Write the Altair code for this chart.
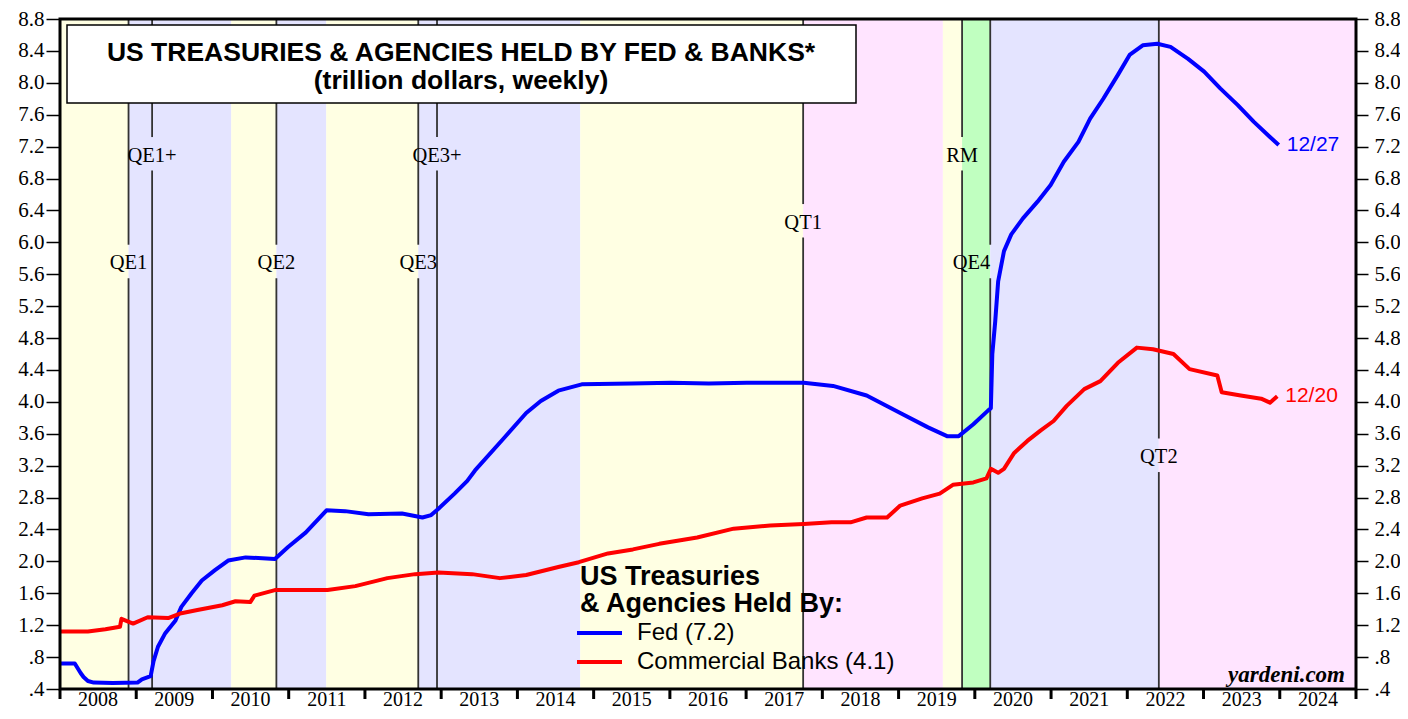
import altair as alt
import pandas as pd

# ---------------- data ----------------
fed_dates = ["2008-01-02", "2008-03-12", "2008-04-09", "2008-04-23", "2008-05-14", "2008-06-11",
             "2008-09-10", "2009-01-07", "2009-01-28", "2009-03-11", "2009-03-25", "2009-04-15",
             "2009-05-20", "2009-07-08", "2009-08-05", "2009-09-23", "2009-11-11", "2010-01-13",
             "2010-03-17", "2010-06-09", "2010-10-27", "2010-12-29", "2011-03-23", "2011-07-01",
             "2011-09-28", "2012-01-18", "2012-06-27", "2012-10-03", "2012-11-14", "2012-12-19",
             "2013-03-06", "2013-05-06", "2013-06-12", "2013-10-30", "2014-02-12", "2014-04-23",
             "2014-07-16", "2014-11-05", "2015-07-01", "2016-01-06", "2016-07-06", "2017-01-04",
             "2017-07-05", "2017-10-04", "2018-02-21", "2018-08-01", "2019-01-09", "2019-05-22",
             "2019-08-21", "2019-10-16", "2019-12-25", "2020-03-04", "2020-03-18", "2020-03-25",
             "2020-04-08", "2020-04-22", "2020-05-20", "2020-06-24", "2020-08-19", "2020-10-28",
             "2020-12-30", "2021-03-03", "2021-05-12", "2021-07-07", "2021-09-08", "2021-11-17",
             "2022-01-12", "2022-03-16", "2022-05-25", "2022-07-27", "2022-10-19", "2023-01-04",
             "2023-03-22", "2023-06-14", "2023-08-30", "2023-11-15", "2023-12-27"]
fed_values = [0.72, 0.72, 0.60, 0.55, 0.50, 0.48,
              0.475, 0.48, 0.52, 0.56, 0.75, 0.93,
              1.10, 1.26, 1.43, 1.60, 1.76, 1.89,
              2.01, 2.05, 2.03, 2.18, 2.36, 2.64,
              2.63, 2.59, 2.60, 2.55, 2.58, 2.66,
              2.85, 3.01, 3.14, 3.55, 3.86, 4.01,
              4.14, 4.22, 4.23, 4.24, 4.23, 4.24,
              4.24, 4.24, 4.20, 4.08, 3.86, 3.68,
              3.57, 3.57, 3.72, 3.89, 3.92, 4.60,
              5.01, 5.51, 5.89, 6.10, 6.30, 6.51,
              6.72, 7.01, 7.26, 7.55, 7.80, 8.10,
              8.35, 8.47, 8.49, 8.45, 8.30, 8.14,
              7.93, 7.72, 7.51, 7.32, 7.22]

bank_dates = ["2008-01-02", "2008-05-14", "2008-08-06", "2008-10-15", "2008-10-22", "2008-12-17",
              "2009-02-25", "2009-06-03", "2009-08-05", "2009-10-21", "2010-02-17", "2010-04-21",
              "2010-07-01", "2010-07-21", "2010-10-27", "2011-03-23", "2011-07-06", "2011-11-16",
              "2012-02-01", "2012-04-18", "2012-08-29", "2012-12-19", "2013-05-29", "2013-10-09",
              "2014-02-12", "2014-07-16", "2014-10-22", "2015-03-11", "2015-07-08", "2015-11-11",
              "2016-05-11", "2016-11-02", "2017-04-26", "2017-10-04", "2018-02-14", "2018-05-16",
              "2018-08-01", "2018-11-07", "2019-01-09", "2019-04-24", "2019-07-17", "2019-09-18",
              "2019-12-25", "2020-02-26", "2020-03-18", "2020-04-22", "2020-05-20", "2020-07-08",
              "2020-09-09", "2020-11-11", "2021-01-13", "2021-03-17", "2021-06-09", "2021-08-25",
              "2021-11-17", "2022-02-16", "2022-05-04", "2022-08-10", "2022-10-26", "2023-03-08",
              "2023-03-29", "2023-06-28", "2023-10-04", "2023-11-15", "2023-12-20"]
bank_values = [1.12, 1.12, 1.15, 1.18, 1.28, 1.22,
               1.30, 1.29, 1.35, 1.39, 1.45, 1.50,
               1.49, 1.57, 1.64, 1.64, 1.64, 1.69,
               1.74, 1.79, 1.84, 1.86, 1.84, 1.79,
               1.83, 1.93, 1.99, 2.10, 2.15, 2.22,
               2.30, 2.41, 2.45, 2.47, 2.49, 2.49,
               2.55, 2.55, 2.70, 2.79, 2.85, 2.96,
               2.99, 3.04, 3.16, 3.11, 3.16, 3.36,
               3.51, 3.64, 3.76, 3.95, 4.16, 4.26,
               4.49, 4.68, 4.66, 4.60, 4.41, 4.33,
               4.12, 4.08, 4.04, 3.99, 4.07]

band_starts = ["2008-01-01", "2008-11-25", "2010-04-01", "2010-11-03", "2011-06-30", "2012-09-13",
               "2014-10-29", "2017-10-01", "2019-08-01", "2019-11-01", "2020-03-15", "2022-06-01"]
band_ends = ["2008-11-25", "2010-04-01", "2010-11-03", "2011-06-30", "2012-09-13", "2014-10-29",
             "2017-10-01", "2019-08-01", "2019-11-01", "2020-03-15", "2022-06-01", "2025-01-01"]
band_colors = ["#FFFFE3", "#E4E4FF", "#FFFFE3", "#E4E4FF", "#FFFFE3", "#E4E4FF",
               "#FFFFE3", "#FFE4FF", "#FFFFE3", "#C0FFC0", "#E4E4FF", "#FFE4FF"]

event_labels = ["QE1", "QE1+", "QE2", "QE3", "QE3+", "QT1", "RM", "QE4", "QT2"]
event_dates = ["2008-11-25", "2009-03-18", "2010-11-03", "2012-09-13", "2012-12-12",
               "2017-10-01", "2019-11-01", "2020-03-15", "2022-06-01"]
event_label_dates = ["2008-11-25", "2009-03-18", "2010-11-03", "2012-09-13", "2012-12-12",
                     "2017-10-01", "2019-11-01", "2019-12-16", "2022-06-01"]
event_label_values = [5.76, 7.11, 5.76, 5.76, 7.11, 6.27, 7.11, 5.76, 3.33]

year_ticks = [2008, 2009, 2010, 2011, 2012, 2013, 2014, 2015, 2016, 2017, 2018,
              2019, 2020, 2021, 2022, 2023, 2024, 2025]
year_labels = ["2008", "2009", "2010", "2011", "2012", "2013", "2014", "2015", "2016",
               "2017", "2018", "2019", "2020", "2021", "2022", "2023", "2024"]
y_ticks = [0.4, 0.8, 1.2, 1.6, 2.0, 2.4, 2.8, 3.2, 3.6, 4.0, 4.4, 4.8, 5.2, 5.6,
           6.0, 6.4, 6.8, 7.2, 7.6, 8.0, 8.4, 8.8]

series_names = ["Fed", "Banks"]
series_colors = ["#0000FF", "#FF0000"]
end_labels = ["12/27", "12/20"]

title_text = "US TREASURIES & AGENCIES HELD BY FED & BANKS*"
subtitle_text = "(trillion dollars, weekly)"
legend_head = ["US Treasuries", "& Agencies Held By:"]
legend_items = ["Fed (7.2)", "Commercial Banks (4.1)"]
source_text = "yardeni.com"


def dec_year(s):
    d = pd.Timestamp(s)
    start = pd.Timestamp(year=d.year, month=1, day=1)
    end = pd.Timestamp(year=d.year + 1, month=1, day=1)
    return d.year + (d - start) / (end - start)


# ---------------- frames ----------------
lines_df = pd.concat([
    pd.DataFrame({"x": [dec_year(d) for d in fed_dates], "value": fed_values, "series": "Fed"}),
    pd.DataFrame({"x": [dec_year(d) for d in bank_dates], "value": bank_values, "series": "Banks"}),
], ignore_index=True)

band_df = pd.DataFrame({"x0": [dec_year(d) for d in band_starts],
                        "x1": [dec_year(d) for d in band_ends],
                        "color": band_colors})

GAP = 0.21
YMIN, YMAX = 0.4, 8.8
seg_rows = []
for d, ly in zip(event_dates, event_label_values):
    xv = dec_year(d)
    seg_rows.append({"x": xv, "y0": YMIN, "y1": ly - GAP})
    seg_rows.append({"x": xv, "y0": ly + GAP, "y1": YMAX})
seg_df = pd.DataFrame(seg_rows)

evlab_df = pd.DataFrame({"x": [dec_year(d) for d in event_label_dates],
                         "y": event_label_values, "label": event_labels})

end_df = pd.DataFrame({"x": [dec_year(fed_dates[-1]), dec_year(bank_dates[-1])],
                       "value": [fed_values[-1], bank_values[-1]],
                       "series": series_names, "label": end_labels})

xtick_df = pd.DataFrame({"x": year_ticks})
xlab_df = pd.DataFrame({"x": [t + 0.5 for t in year_ticks[:-1]], "label": year_labels})

W, H = 1296, 670
xs = alt.Scale(domain=[2008, 2025], nice=False, zero=False)
ys = alt.Scale(domain=[YMIN, YMAX], nice=False, zero=False)
cs = alt.Scale(domain=series_names, range=series_colors)

ylab = "datum.value < 1 ? slice(format(datum.value, '.1f'), 1) : format(datum.value, '.1f')"
SERIF = "Liberation Serif"
SANS = "Liberation Sans"

y_left = alt.Axis(values=y_ticks, labelExpr=ylab, orient="left", tickSize=14, tickWidth=1.5,
                  tickColor="black", domain=False, grid=False, labelFont=SERIF, labelFontSize=21,
                  labelColor="black", labelPadding=2, title=None, labelOverlap=False)
y_right = alt.Axis(values=y_ticks, labelExpr=ylab, orient="right", tickSize=12, tickWidth=1.5,
                   tickColor="black", domain=False, grid=False, labelFont=SERIF, labelFontSize=21,
                   labelColor="black", labelPadding=6, title=None, labelOverlap=False)

bands = alt.Chart(band_df).mark_rect().encode(
    x=alt.X("x0:Q", scale=xs, axis=None), x2="x1:Q",
    y=alt.value(0), y2=alt.value(H),
    color=alt.Color("color:N", scale=None))

rules = alt.Chart(seg_df).mark_rule(color="#333333", strokeWidth=1.8).encode(
    x=alt.X("x:Q", scale=xs, axis=None),
    y=alt.Y("y0:Q", scale=ys, axis=None), y2="y1:Q")

ev_text = alt.Chart(evlab_df).mark_text(font=SERIF, fontSize=20.5, color="black",
                                        align="center", baseline="middle", dy=2).encode(
    x=alt.X("x:Q", scale=xs, axis=None), y=alt.Y("y:Q", scale=ys, axis=None), text="label:N")

title_box = alt.Chart(pd.DataFrame({"a": [1]})).mark_rect(
    fill="white", stroke="black", strokeWidth=1.5).encode(
    x=alt.value(7), x2=alt.value(796), y=alt.value(6), y2=alt.value(84))

title_df = pd.DataFrame({"t": [title_text, subtitle_text], "py": [42, 70]})
titles = alt.Chart(title_df).mark_text(font=SANS, fontWeight="bold", fontSize=26.5, color="black",
                                       align="center", baseline="alphabetic").encode(
    x=alt.value(401), y=alt.Y("py:Q", scale=None), text="t:N")

lines = alt.Chart(lines_df).mark_line(strokeWidth=4, strokeJoin="round").encode(
    x=alt.X("x:Q", scale=xs, axis=None),
    y=alt.Y("value:Q", scale=ys, axis=y_left),
    color=alt.Color("series:N", scale=cs, legend=None),
    detail="series:N", order="x:Q")

ends = alt.Chart(end_df).mark_text(font=SANS, fontSize=21, align="left", baseline="middle", dx=8).encode(
    x=alt.X("x:Q", scale=xs, axis=None),
    y=alt.Y("value:Q", scale=ys, axis=y_right),
    color=alt.Color("series:N", scale=cs, legend=None), text="label:N")

head_df = pd.DataFrame({"t": legend_head, "py": [566, 593]})
leg_head = alt.Chart(head_df).mark_text(font=SANS, fontWeight="bold", fontSize=27, color="black",
                                        align="left", baseline="alphabetic").encode(
    x=alt.value(520), y=alt.Y("py:Q", scale=None), text="t:N")

item_df = pd.DataFrame({"t": legend_items, "py": [614, 643], "series": series_names})
leg_lines = alt.Chart(item_df).mark_rule(strokeWidth=4).encode(
    x=alt.value(517), x2=alt.value(562), y=alt.Y("py:Q", scale=None),
    color=alt.Color("series:N", scale=cs, legend=None))
leg_text = alt.Chart(item_df).mark_text(font=SANS, fontSize=24, color="black",
                                        align="left", baseline="middle").encode(
    x=alt.value(577), y=alt.Y("py:Q", scale=None), text="t:N")

source = alt.Chart(pd.DataFrame({"t": [source_text]})).mark_text(
    font=SERIF, fontSize=23, fontWeight="bold", fontStyle="italic", color="black",
    align="right", baseline="alphabetic").encode(
    x=alt.value(1285), y=alt.value(663), text="t:N")

frame = alt.Chart(pd.DataFrame({"a": [1]})).mark_rect(
    fill=None, stroke="black", strokeWidth=3).encode(
    x=alt.value(0), x2=alt.value(W), y=alt.value(0), y2=alt.value(H))

# bottom (year) axis: ticks at year boundaries, labels centred within each year
xticks = alt.Chart(xtick_df).mark_rule(color="black", strokeWidth=3).encode(
    x=alt.X("x:Q", scale=xs, axis=None), y=alt.value(H), y2=alt.value(H + 10))
xlabels = alt.Chart(xlab_df).mark_text(font=SERIF, fontSize=20, color="black",
                                       align="center", baseline="alphabetic").encode(
    x=alt.X("x:Q", scale=xs, axis=None), y=alt.value(H + 17), text="label:N")

chart = alt.layer(
    bands, rules, ev_text, title_box, titles, lines, ends,
    leg_head, leg_lines, leg_text, source, frame, xticks, xlabels
).properties(
    width=W, height=H,
    padding={"left": 52, "top": 11, "right": 44, "bottom": 22},
    autosize=alt.AutoSizeParams(type="none"),
    background="white",
).configure_view(stroke=None)

chart.save("out.html", embed_options={"renderer": "svg", "actions": False})
